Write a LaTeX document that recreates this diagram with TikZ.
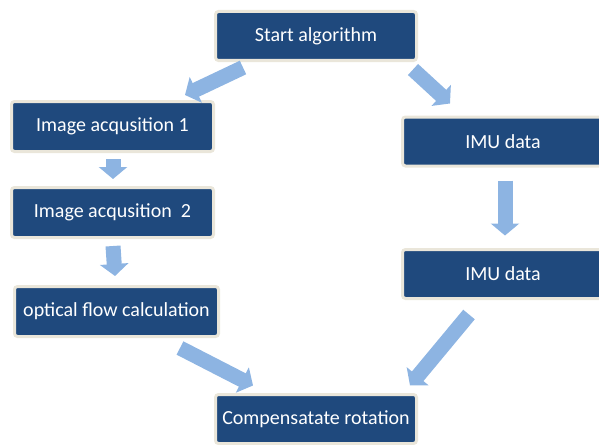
\documentclass[tikz,border=0pt]{standalone}
\usepackage{fontspec}
\setmainfont{Carlito}
\usetikzlibrary{arrows.meta,calc}
\definecolor{boxfill}{HTML}{1F497D}
\definecolor{boxedge}{HTML}{EAE6DA}
\definecolor{arrowblue}{HTML}{8DB4E2}
\begin{document}
\begin{tikzpicture}[x=1pt,y=-1pt,
  stepbox/.style={draw=boxedge, line width=3pt, fill=boxfill, rounded corners=3pt,
    minimum width=201pt, minimum height=49pt, inner sep=2pt, text=white,
    font=\fontsize{20}{24}\selectfont},
  blockarrow/.style={draw=arrowblue, line width=15pt,
    -{Triangle[width=28pt,length=12pt]}}]
\useasboundingbox (0,0) rectangle (599,444);
\node[stepbox] (start) at (316,36) {Start algorithm};
\node[stepbox, minimum width=202pt, minimum height=50pt] (img1) at (112.5,126.5) {Image acqusition 1};
\node[stepbox, minimum width=202pt, minimum height=50pt] (img2) at (112.5,212.5) {Image acqusition~ 2};
\node[stepbox, minimum width=204pt, minimum height=50pt] (of) at (116.5,311.5) {optical flow calculation};
\node[stepbox] (imu1) at (503,141.5) {IMU data};
\node[stepbox] (imu2) at (503,274) {IMU data};
\node[stepbox] (comp) at (316,419) {Compensatate rotation};
\draw[blockarrow] ($(start.south)+(-73,5.5)$) -- ($(img1.north)+(72.5,-5)$);
\draw[blockarrow] ($(start.south)+(97,7.5)$) -- ($(imu1.north)+(-53,-12)$);
\draw[blockarrow] ($(img1.south)+(0.5,6)$) -- ($(img2.north)+(0.5,-7)$);
\draw[blockarrow] ($(img2.south)+(0.5,7)$) -- ($(of.north)+(-1.5,-9)$);
\draw[blockarrow] ($(of.south)+(63.5,10)$) -- ($(comp.north)+(-63,-7.5)$);
\draw[blockarrow] ($(imu1.south)+(2,13)$) -- ($(imu2.north)+(2,-12.5)$);
\draw[blockarrow] ($(imu2.south)+(-34,14.5)$) -- ($(comp.north)+(94,-7.5)$);
\end{tikzpicture}
\end{document}
